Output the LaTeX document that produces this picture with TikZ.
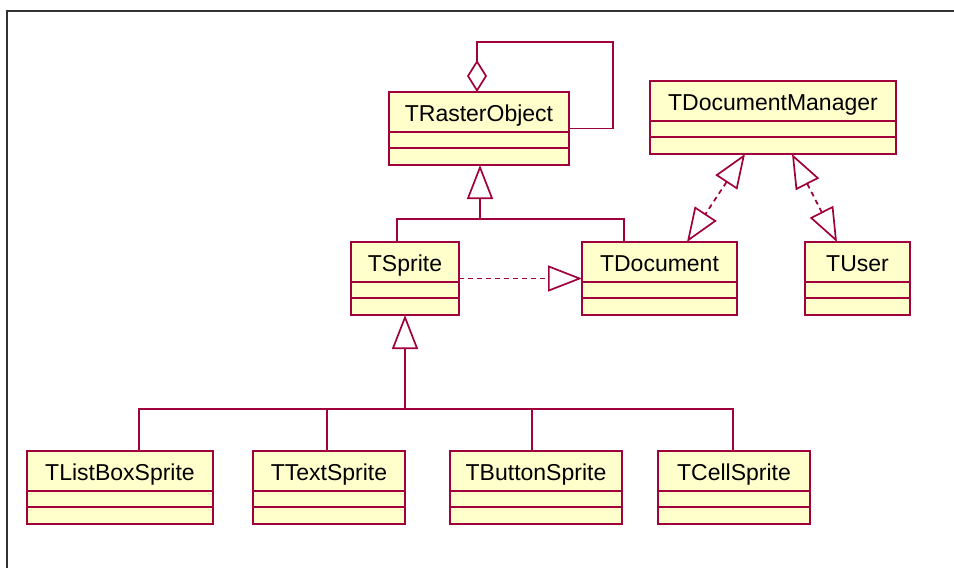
\documentclass[tikz,border=0pt]{standalone}
\usepackage{fontspec}
\setmainfont{Liberation Sans}
\usetikzlibrary{arrows.meta}

\definecolor{umlline}{RGB}{160,0,60}
\definecolor{umlfill}{RGB}{255,255,204}
\definecolor{framegray}{RGB}{50,50,50}

\tikzset{
  umldraw/.style={draw=umlline, line width=1.7pt},
  classbox/.style={umldraw, fill=umlfill, minimum height=73pt,
                   inner sep=0pt, outer sep=0pt},
  classtitle/.style={inner sep=0pt, anchor=base, font=\fontsize{23}{27}\selectfont},
  gentip/.tip={Triangle[open, length=34pt, width=26pt]},
  aggtip/.tip={Diamond[open, length=32pt, width=20pt]},
  assoc/.style={umldraw},
  generalize/.style={umldraw, -{gentip}},
  realize/.style={umldraw, dash pattern=on 5pt off 4pt, -{gentip}},
  mutualrealize/.style={umldraw, dash pattern=on 5pt off 4pt, {gentip}-{gentip}},
  aggregate/.style={umldraw, {aggtip}-},
}

% class box: name, left x, top y, right x, title
\newcommand\umlclass[5]{%
  \pgfmathsetmacro\umlboxw{#4-#2}%
  \node[classbox, minimum width=\umlboxw pt, anchor=north west] (#1) at (#2,#3) {};
  \draw[umldraw] ([yshift=-40pt]#1.north west) -- ([yshift=-40pt]#1.north east)
                 ([yshift=-56pt]#1.north west) -- ([yshift=-56pt]#1.north east);
  \node[classtitle] (#1-title) at ([yshift=-29pt]#1.north) {#5};
}

\begin{document}
\begin{tikzpicture}[x=1pt, y=-1pt]
  \useasboundingbox (0,0) rectangle (954,568);
  \fill[white] (0,0) rectangle (954,568);

  % window frame
  \draw[framegray, line width=2pt] (7,568) |- (954,11);

  % classes
  \umlclass{tro}{389}{92}{569}{TRasterObject}
  \umlclass{tdm}{650}{81}{896}{TDocumentManager}
  \umlclass{tsp}{351}{242}{459}{TSprite}
  \umlclass{tdoc}{582}{242}{737}{TDocument}
  \umlclass{tuser}{805}{242}{910}{TUser}
  \umlclass{tlb}{27}{451}{213}{TListBoxSprite}
  \umlclass{ttx}{253}{451}{405}{TTextSprite}
  \umlclass{tbt}{450}{451}{622}{TButtonSprite}
  \umlclass{tcl}{658}{451}{810}{TCellSprite}

  % self aggregation of TRasterObject
  \coordinate (loopcorner) at (613,42);
  \draw[aggregate] ([xshift=-2pt]tro.north) |- (loopcorner) |- (tro.east);

  % TSprite and TDocument inherit from TRasterObject
  \coordinate (bartop) at (480,219);
  \draw[assoc] ([xshift=46pt]tsp.north west) |- (bartop)
               -| ([xshift=42pt]tdoc.north west);
  \draw[generalize] (bartop) -- ([xshift=1pt]tro.south);

  % TSprite realizes TDocument
  \draw[realize] (tsp.east) -- (tdoc.west);

  % sprite subclasses
  \coordinate (barlow) at (405,409);
  \draw[assoc] ([xshift=112pt]tlb.north west) |- (barlow)
               -| ([xshift=75pt]tcl.north west);
  \draw[assoc] ([xshift=74pt]ttx.north west) -- ++(0,-42);
  \draw[assoc] ([xshift=82pt]tbt.north west) -- ++(0,-42);
  \draw[generalize] (barlow) -- (tsp.south);

  % realizations with TDocumentManager
  \draw[mutualrealize] ([xshift=95pt]tdm.south west) -- ([xshift=105pt]tdoc.north west);
  \draw[mutualrealize] ([xshift=142pt]tdm.south west) -- ([xshift=32pt]tuser.north west);
\end{tikzpicture}
\end{document}
